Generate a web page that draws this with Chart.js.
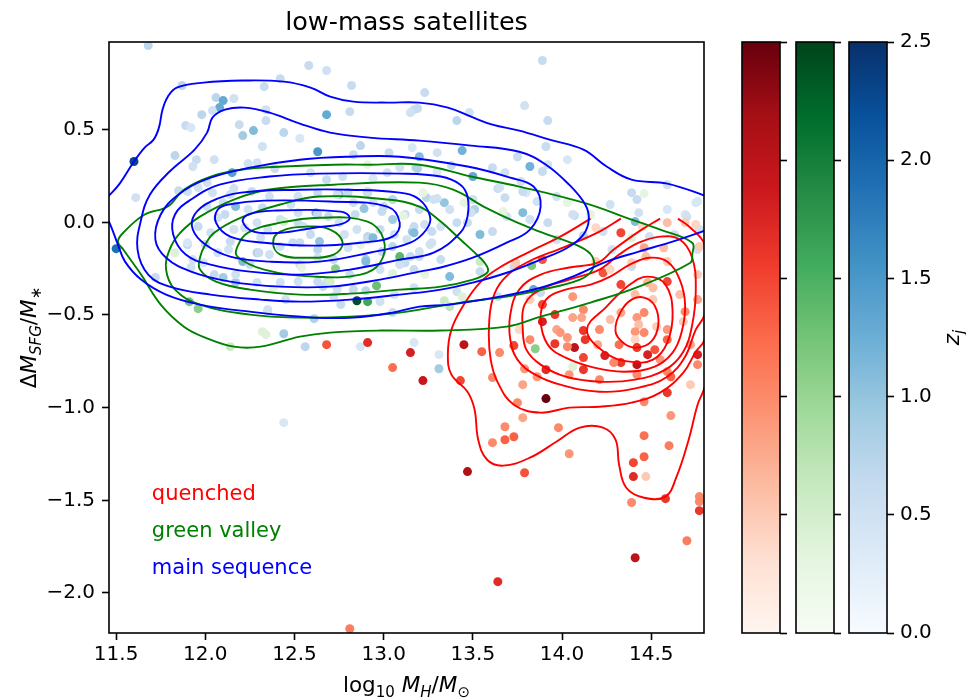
<!DOCTYPE html>
<html>
<head>
<meta charset="utf-8">
<title>low-mass satellites</title>
<script src="https://cdn.jsdelivr.net/npm/chart.js@4.4.1/dist/chart.umd.min.js"></script>
<style>
  html, body { margin:0; padding:0; background:#ffffff; }
  #fig { position:relative; width:966px; height:700px; background:#ffffff; overflow:hidden; }
  #fig canvas { position:absolute; top:0; }
</style>
</head>
<body>
<div id="fig">
  <canvas id="main" width="730" height="700" style="left:0px;width:730px;height:700px;"></canvas>
  <canvas id="cbQ" width="50" height="700" style="left:741px;width:50px;height:700px;"></canvas>
  <canvas id="cbG" width="50" height="700" style="left:795px;width:50px;height:700px;"></canvas>
  <canvas id="cbM" width="118" height="700" style="left:848px;width:118px;height:700px;"></canvas>
</div>
<script>
// ---------------- DATA ----------------
const titleText = 'low-mass satellites';
const xTicks = [11.5, 12.0, 12.5, 13.0, 13.5, 14.0, 14.5];
const yTicks = [-2.0, -1.5, -1.0, -0.5, 0.0, 0.5];
const zTicks = [0.0, 0.5, 1.0, 1.5, 2.0, 2.5];
const xMin = 11.46, xMax = 14.796, yMin = -2.216, yMax = 0.973, zMin = 0.0, zMax = 2.5;
const classNames = ['quenched', 'green valley', 'main sequence'];

// main sequence galaxies
const msX = [11.68,12.58,12.68,12.42,11.87,12.33,12.82,12.06,12.10,12.08,12.16,12.04,11.98,12.34,12.68,12.81,11.89,11.92,12.19,12.34,12.27,12.21,12.44,12.53,12.32,12.63,12.87,13.16,11.83,11.95,12.05,11.60,12.15,11.93,12.24,12.29,12.39,12.59,12.68,12.77,12.83,12.94,13.02,13.18,11.85,11.96,12.01,12.16,12.17,12.75,12.80,12.91,13.00,13.05,12.89,11.61,11.50,11.90,12.52,12.62,12.63,12.91,13.05,13.16,12.90,13.12,12.29,12.53,
13.89,13.23,13.17,13.19,13.79,13.48,13.92,13.41,13.91,13.44,13.20,13.82,13.75,13.38,14.03,13.92,13.89,13.50,13.30,13.64,13.68,13.77,13.80,13.86,13.97,13.24,13.34,13.51,13.47,14.07,14.39,14.42,14.41,14.59,14.59,14.69,14.76,13.54,
13.13,13.27,13.78,13.92,14.23,13.97,
13.03,13.30,13.61,13.68,13.19,13.65,13.78,13.30,12.91,13.09,13.15,
14.06,14.27,14.43,14.70,14.75,14.76,13.61,13.49,13.41,13.37,13.32,13.50,13.69,13.82,
13.73,13.84,13.37,
13.17,13.31,13.31,
13.54,13.64,13.88,14.39,13.74,13.20,13.41,
11.72,11.92,12.10,12.17,12.35,12.61,12.44,12.56,12.87,13.05,12.98,12.90,12.44,12.63,12.72,12.68,
11.90,12.04,12.14,12.26,12.36,12.52,12.63,12.74,12.83,12.94,12.99,13.17,13.23,13.27,13.17,13.28,13.20,
12.07,12.16,12.14,11.90,11.93,12.21,12.30,12.36,12.31,12.35,12.42,12.52,12.63,12.64,12.63,12.72,12.80,12.91,12.94,12.90,12.99,13.09,13.15,13.17,13.20,13.05,12.98,12.85,12.75,12.69,12.55,12.49,12.42,12.29,12.24,12.10,12.01,11.96,12.03,12.07,11.99,12.05,12.17,12.29,12.42,12.52,12.66,12.74,12.83,
12.35,13.17,
14.49,14.63,14.77,14.12,14.28,
12.11,12.22,12.32,12.48,12.59,12.78,12.84,13.06,13.12,13.26,13.32,12.98,12.81,12.53,12.25,12.13,12.00,12.45,12.76,13.06];
const msY = [0.954,0.846,0.819,0.775,0.738,0.732,0.738,0.673,0.657,0.619,0.668,0.603,0.581,0.608,0.581,0.597,0.522,0.511,0.527,0.549,0.495,0.468,0.484,0.452,0.409,0.381,0.414,0.403,0.360,0.338,0.338,0.328,0.268,0.301,0.317,0.322,0.290,0.268,0.230,0.247,0.365,0.236,0.268,0.295,0.171,0.187,0.214,0.182,0.085,0.150,0.160,0.160,0.085,0.123,0.074,0.133,-0.142,-0.120,-0.002,0.052,-0.147,-0.077,0.015,-0.050,-0.201,-0.218,-0.164,-0.110,
0.873,0.700,0.608,0.614,0.630,0.592,0.549,0.549,0.409,0.387,0.354,0.301,0.354,0.306,0.338,0.311,0.274,0.247,0.274,0.182,0.133,0.220,0.160,0.112,0.139,0.133,0.106,0.069,-0.002,0.036,0.160,0.123,0.004,0.203,0.069,0.042,0.112,-0.066,
-0.093,-0.110,0.052,-0.002,-0.050,-0.093,
0.376,0.376,0.295,0.268,0.290,0.187,0.166,0.128,0.166,0.295,0.592,
0.042,0.096,0.052,0.031,0.106,-0.147,-0.050,0.052,-0.002,0.069,-0.023,0.123,0.031,0.015,
-0.239,-0.363,-0.293,
-0.649,-0.714,-0.790,
-0.266,-0.401,-0.379,-0.239,-0.234,-0.185,-0.374,
-0.298,-0.244,-0.298,-0.325,-0.477,-0.520,-0.601,-0.671,-0.671,-0.487,-0.428,-0.369,-1.081,-0.320,-0.401,-0.325,
0.166,0.160,0.150,0.166,0.139,0.139,0.160,0.150,0.106,0.106,0.058,-0.023,-0.012,-0.050,-0.056,0.123,0.069,
0.025,-0.039,-0.104,-0.110,-0.201,-0.212,-0.164,-0.174,-0.083,-0.039,0.015,0.052,0.042,-0.104,-0.191,-0.201,-0.137,-0.093,-0.083,-0.212,-0.158,-0.228,-0.185,-0.255,-0.158,-0.131,-0.039,-0.039,-0.002,0.031,-0.023,-0.110,-0.131,-0.002,0.069,0.106,0.085,-0.023,-0.056,-0.164,-0.218,-0.282,-0.282,-0.325,-0.325,-0.320,-0.347,-0.363,-0.363,
-0.471,-0.353,
-0.077,-0.066,-0.039,-0.072,-0.147,
0.042,-0.029,0.079,0.096,-0.066,-0.066,0.042,-0.066,0.042,-0.120,-0.201,-0.255,-0.282,-0.228,-0.228,-0.147,-0.120,-0.417,-0.444,-0.390];
const msZ = [0.7,0.6,0.5,0.6,0.7,0.6,0.6,0.7,1.3,1.3,0.5,0.5,0.7,0.5,1.3,0.6,0.6,0.4,0.6,0.6,1.1,0.9,0.7,0.4,0.5,1.5,0.7,0.4,0.7,0.6,0.5,2.3,1.4,0.5,0.5,0.5,0.6,0.5,0.6,0.5,0.6,0.4,0.5,0.7,0.6,0.5,0.5,0.5,1.1,1.1,0.6,0.8,0.6,0.7,1.0,0.5,1.9,0.7,0.6,1.1,0.7,0.7,0.9,0.9,0.9,0.6,0.8,0.6,
0.6,0.6,0.6,0.6,0.5,0.5,0.6,0.7,0.6,1.2,1.1,1.2,0.6,0.6,0.4,0.5,0.6,1.3,0.4,0.6,0.6,0.5,0.4,0.5,0.5,0.7,1.0,0.8,0.6,0.6,0.6,0.6,1.1,0.5,0.4,0.4,0.4,1.1,
0.5,0.5,1.1,0.6,0.5,0.5,
0.6,0.5,0.6,0.5,0.8,0.5,0.6,0.5,0.5,0.5,0.5,
0.5,0.5,0.5,0.5,0.4,0.5,0.6,0.5,0.6,0.5,0.5,0.5,0.5,0.5,
0.6,1.3,1.1,
0.4,0.4,0.9,
0.6,0.6,0.6,0.6,0.6,0.6,0.5,
0.6,0.5,0.9,0.9,0.7,0.8,0.9,0.7,0.4,0.6,0.5,0.7,0.4,0.6,0.5,0.5,
0.5,0.5,0.5,0.6,0.5,0.5,0.6,0.5,0.5,0.5,0.6,0.6,0.5,0.6,1.1,0.5,0.6,
0.5,0.5,0.6,0.4,0.5,1.1,0.6,0.5,0.5,0.5,0.5,0.5,0.6,1.0,0.5,0.6,0.5,0.6,1.1,1.1,0.6,0.5,0.6,0.6,0.5,0.7,0.6,0.5,0.5,0.6,0.5,0.6,0.5,0.5,0.5,0.5,0.5,0.6,0.5,0.5,0.4,0.6,0.5,0.5,0.5,0.5,0.6,0.5,0.6,
0.5,0.5,
0.5,0.5,0.5,0.7,0.5,
0.6,0.5,0.6,0.5,0.6,0.5,0.6,0.5,0.6,0.5,0.6,0.5,0.6,0.5,0.6,0.5,0.6,0.5,0.6,0.5];

// green valley galaxies
const gvX = [11.91,11.96,12.32,12.34,12.14,12.73,12.70,12.85,12.91,12.96,13.09,13.05,11.83,12.44,12.38,12.54,14.46,14.03,13.45,13.22,13.67,13.83,13.85,14.06,13.34,13.37,13.44,13.54,14.39,12.91,13.11,13.23,14.16,12.87];
const gvY = [-0.428,-0.466,-0.590,-0.606,-0.671,-0.250,-0.320,-0.423,-0.428,-0.342,-0.185,-0.277,-0.164,0.004,-0.363,-0.244,0.155,0.106,0.106,0.160,0.058,-0.234,-0.682,-0.779,-0.423,-0.455,-0.401,-0.212,-0.083,0.311,0.036,-0.282,0.042,-0.120];
const gvZ = [1.2,1.1,0.4,0.4,0.6,1.1,0.5,2.4,1.6,1.3,1.4,0.4,0.4,0.5,0.3,0.3,0.3,0.3,0.3,0.3,0.3,1.2,1.1,0.4,0.6,0.7,0.4,0.6,0.4,0.3,0.3,0.3,0.3,0.3];

// quenched galaxies
const qX = [12.68,12.91,13.15,13.05,13.22,13.45,13.43,13.55,13.65,13.73,
13.61,13.79,13.78,13.86,13.75,13.91,13.78,13.68,13.73,13.61,
13.68,13.98,14.04,13.47,13.79,13.91,13.89,13.96,13.89,13.97,
13.96,14.03,14.07,14.13,14.12,14.12,14.03,13.99,14.04,14.06,
14.12,14.06,14.11,14.12,14.23,14.33,14.39,14.47,14.59,14.48,
14.41,14.51,14.59,14.42,14.46,14.33,14.43,14.41,14.46,14.41,
14.42,14.48,14.42,14.42,14.33,14.24,14.29,14.53,14.59,14.59,
14.69,14.68,14.59,14.61,14.76,14.76,14.59,14.46,14.61,14.46,
14.60,14.46,14.40,14.40,14.47,14.77,14.76,14.76,14.19,14.33,
14.45,14.59,14.69,14.75,13.89,13.74,14.57,14.77,14.46,14.39,
14.58,14.77,14.77,14.70,14.41,13.64,12.81,14.19,14.27,14.51,
14.66,14.72,14.55,14.32,14.21,14.27,14.20,14.52,14.72,14.21,
13.82,13.76,13.82];
const qY = [-0.660,-0.649,-0.703,-0.784,-0.854,-0.660,-0.854,-0.698,-0.703,-0.665,
-0.838,-0.790,-0.876,-0.833,-0.973,-0.951,-1.054,-1.103,-1.157,-1.189,
-1.173,-1.108,-1.249,-1.345,-1.351,-0.795,-0.444,-0.498,-0.536,-0.579,
-0.655,-0.622,-0.676,-0.633,-0.730,-0.795,-0.671,-0.595,-0.822,-0.401,
-0.471,-0.514,-0.514,-0.584,-0.272,-0.336,-0.218,-0.185,-0.212,-0.325,
-0.390,-0.353,-0.320,-0.514,-0.487,-0.487,-0.552,-0.590,-0.595,-0.633,
-0.676,-0.714,-0.768,-0.822,-0.757,-0.719,-0.757,-0.563,-0.579,-0.633,
-0.482,-0.536,-0.806,-0.833,-0.714,-0.768,-0.919,-0.968,-1.043,-1.151,
-1.205,-1.265,-1.297,-1.372,-1.372,-1.480,-0.282,-0.417,-0.029,-0.056,
-0.023,-0.002,-0.002,-0.012,-0.201,-0.218,-0.137,-0.131,-0.137,-1.512,
-1.491,-1.507,-1.556,-1.718,-1.810,-1.939,-2.193,-0.212,-0.255,-0.417,
-0.390,-0.660,-0.741,-0.660,-0.579,-0.525,-0.660,-0.687,-0.876,-0.849,
-0.417,-0.579,-0.633];
const qZ = [1.4,1.7,1.8,1.2,1.9,2.0,1.5,1.3,1.0,1.5,
1.0,0.9,0.8,0.9,1.0,2.5,0.8,1.0,1.3,1.0,
1.3,1.0,0.9,2.1,1.4,1.7,1.5,1.6,1.8,0.8,
1.6,0.9,2.0,1.6,1.5,1.6,1.0,0.9,0.9,0.9,
1.0,0.8,0.8,1.6,1.4,1.5,0.5,0.6,0.5,0.7,
0.6,0.6,1.5,0.9,1.0,0.8,0.6,0.9,1.0,0.4,
1.6,1.8,2.0,1.0,1.6,1.8,1.0,0.5,0.9,1.3,
1.0,0.5,1.0,1.3,1.8,1.0,1.6,1.0,0.9,1.2,
1.1,1.3,1.5,1.7,0.5,1.0,0.5,0.8,0.4,1.5,
0.4,0.6,0.5,0.4,1.4,0.5,0.6,0.5,0.8,1.0,
1.6,1.0,1.6,1.1,2.0,1.7,1.1,0.5,0.4,0.5,
0.6,0.8,0.9,1.2,1.0,0.6,0.8,1.4,0.5,1.0,
0.5,0.4,1.0];

// density contours (data units), main sequence
const msC1aX = [11.44,11.46,11.52,11.60,11.66,11.71,11.74,11.76,11.79,11.84,11.99,12.21,12.44,12.59,12.70,12.83,13.02,13.20,13.36,13.49,13.61,13.76,13.93,14.12,14.25,14.39,14.59,14.80,14.84];
const msC1aY = [0.130,0.144,0.209,0.328,0.403,0.446,0.511,0.608,0.678,0.727,0.754,0.765,0.759,0.727,0.678,0.651,0.646,0.646,0.619,0.570,0.527,0.495,0.446,0.392,0.301,0.230,0.209,0.144,0.127];
const msC1bX = [11.42,11.46,11.51,11.55,11.64,11.78,11.97,12.25,12.61,12.83,13.05,13.20,13.37,13.65,13.88,14.06,14.25,14.43,14.62,14.80,14.84];
const msC1bY = [0.070,0.004,-0.120,-0.212,-0.309,-0.390,-0.444,-0.482,-0.514,-0.514,-0.487,-0.455,-0.444,-0.401,-0.353,-0.293,-0.212,-0.158,-0.104,-0.045,-0.029];
const msC2X = [11.62,11.64,11.69,11.80,11.94,12.01,12.04,12.11,12.22,12.36,12.53,12.70,12.92,13.20,13.49,13.76,13.91,14.04,14.13,14.15,14.12,14.03,13.88,13.69,13.50,13.32,13.09,12.81,12.53,12.31,12.03,11.80,11.68,11.62];
const msC2Y = [-0.147,0.015,0.150,0.274,0.392,0.484,0.565,0.608,0.619,0.592,0.533,0.484,0.457,0.441,0.414,0.381,0.311,0.203,0.096,0.015,-0.066,-0.137,-0.201,-0.272,-0.325,-0.363,-0.390,-0.417,-0.428,-0.417,-0.390,-0.347,-0.282,-0.147];
const msC3X = [11.72,11.75,11.85,12.00,12.25,12.53,12.81,13.09,13.47,13.71,13.84,13.88,13.82,13.69,13.50,13.32,13.20,12.98,12.70,12.42,12.14,11.92,11.78,11.72];
const msC3Y = [-0.093,0.042,0.150,0.230,0.295,0.338,0.354,0.354,0.301,0.241,0.193,0.085,-0.039,-0.110,-0.191,-0.244,-0.266,-0.309,-0.347,-0.347,-0.320,-0.266,-0.191,-0.093];
const msC4X = [11.82,11.83,11.92,12.08,12.36,12.64,13.09,13.32,13.43,13.47,13.47,13.43,13.28,13.09,12.81,12.53,12.25,12.03,11.89,11.82];
const msC4Y = [-0.066,0.042,0.123,0.203,0.247,0.263,0.263,0.247,0.203,0.139,0.031,-0.056,-0.164,-0.201,-0.255,-0.282,-0.266,-0.228,-0.174,-0.066];
const msC5X = [11.93,11.94,12.03,12.20,12.53,12.81,13.09,13.20,13.26,13.24,13.15,12.92,12.64,12.36,12.14,12.00,11.93];
const msC5Y = [-0.039,0.042,0.112,0.160,0.176,0.176,0.160,0.123,0.031,-0.039,-0.110,-0.164,-0.212,-0.212,-0.185,-0.120,-0.039];
const msC6X = [12.06,12.07,12.13,12.33,12.70,13.02,13.09,13.05,12.87,12.61,12.33,12.14,12.06];
const msC6Y = [-0.002,0.069,0.096,0.117,0.112,0.085,-0.002,-0.077,-0.110,-0.126,-0.110,-0.077,-0.002];
const msC7X = [12.21,12.24,12.38,12.76,12.81,12.77,12.61,12.42,12.27,12.21];
const msC7Y = [0.004,0.042,0.063,0.058,0.025,-0.007,-0.029,-0.056,-0.050,0.004];

// green valley contours
const gvC1X = [11.51,11.54,11.66,11.79,11.88,12.03,12.20,12.44,12.72,12.92,13.20,13.49,13.76,14.12,14.39,14.55,14.73,14.73,14.72,14.43,14.16,13.88,13.69,13.32,12.98,12.70,12.53,12.31,12.16,12.00,11.88,11.75,11.64,11.54,11.51];
const gvC1Y = [-0.104,-0.056,0.042,0.085,0.176,0.247,0.284,0.301,0.311,0.311,0.311,0.247,0.193,0.106,0.015,-0.039,-0.110,-0.174,-0.218,-0.347,-0.433,-0.509,-0.563,-0.584,-0.584,-0.595,-0.617,-0.671,-0.671,-0.622,-0.563,-0.444,-0.282,-0.147,-0.104];
const gvC2X = [11.80,11.86,11.97,12.16,12.35,12.72,13.20,13.39,13.56,13.75,13.89,14.10,14.17,14.17,14.10,13.89,13.69,13.43,13.09,12.81,12.53,12.25,11.97,11.83,11.78,11.80];
const gvC2Y = [-0.147,-0.056,0.031,0.123,0.176,0.203,0.214,0.176,0.085,-0.002,-0.056,-0.131,-0.185,-0.255,-0.309,-0.363,-0.401,-0.433,-0.487,-0.509,-0.514,-0.498,-0.444,-0.363,-0.255,-0.147];
const gvC3X = [11.97,12.00,12.05,12.20,12.42,12.64,13.02,13.20,13.32,13.43,13.54,13.58,13.58,13.50,13.32,13.09,12.81,12.53,12.25,12.06,11.97,11.97];
const gvC3Y = [-0.191,-0.120,-0.056,0.025,0.096,0.139,0.123,0.085,0.004,-0.093,-0.191,-0.239,-0.272,-0.309,-0.347,-0.363,-0.385,-0.390,-0.363,-0.320,-0.255,-0.191];
const gvC4X = [12.18,12.24,12.42,12.64,12.91,13.00,12.98,12.87,12.61,12.33,12.18,12.18];
const gvC4Y = [-0.131,-0.056,-0.002,0.025,0.004,-0.093,-0.218,-0.282,-0.293,-0.255,-0.185,-0.131];
const gvC5X = [12.38,12.42,12.57,12.70,12.77,12.72,12.57,12.42,12.38];
const gvC5Y = [-0.110,-0.050,-0.023,-0.039,-0.110,-0.174,-0.191,-0.174,-0.110];

// quenched contours
const qC1X = [14.16,13.99,13.82,13.65,13.54,13.45,13.38,13.36,13.38,13.47,13.51,13.53,13.58,13.67,13.82,13.97,14.10,14.23,14.30,14.32,14.36,14.46,14.58,14.64,14.71,14.76,14.80,14.86,14.86];
const qC1Y = [0.020,-0.077,-0.158,-0.244,-0.325,-0.444,-0.579,-0.714,-0.822,-0.914,-1.011,-1.173,-1.281,-1.313,-1.270,-1.183,-1.108,-1.108,-1.173,-1.308,-1.432,-1.486,-1.480,-1.378,-1.173,-0.984,-0.887,-0.579,0.020];
const qC2X = [14.33,14.21,14.02,13.80,13.67,13.61,13.59,13.60,13.64,13.73,13.88,14.04,14.21,14.39,14.55,14.68,14.75,14.80,14.84,14.84];
const qC2Y = [0.020,-0.050,-0.131,-0.218,-0.309,-0.417,-0.579,-0.741,-0.865,-0.984,-1.027,-1.000,-0.995,-0.973,-0.919,-0.811,-0.698,-0.633,-0.417,0.020];
const qC3X = [14.55,14.43,14.29,14.20,14.04,13.88,13.76,13.71,13.71,13.75,13.85,13.99,14.21,14.43,14.59,14.69,14.75,14.80,14.83,14.80,14.72,14.65];
const qC3Y = [0.020,-0.050,-0.147,-0.218,-0.244,-0.282,-0.363,-0.498,-0.633,-0.741,-0.822,-0.876,-0.914,-0.892,-0.833,-0.725,-0.579,-0.498,-0.309,-0.120,-0.029,0.020];
const qC4X = [13.78,13.79,13.88,14.04,14.21,14.32,14.43,14.55,14.66,14.73,14.75,14.73,14.68,14.58,14.41,14.21,14.02,13.88,13.80,13.78];
const qC4Y = [-0.579,-0.444,-0.363,-0.309,-0.255,-0.174,-0.110,-0.077,-0.093,-0.191,-0.363,-0.552,-0.698,-0.795,-0.849,-0.860,-0.833,-0.768,-0.687,-0.579];
const qC5X = [13.88,13.91,14.02,14.16,14.27,14.38,14.49,14.59,14.66,14.69,14.67,14.62,14.52,14.35,14.18,14.02,13.92,13.88];
const qC5Y = [-0.525,-0.417,-0.363,-0.336,-0.293,-0.228,-0.191,-0.212,-0.309,-0.444,-0.595,-0.703,-0.779,-0.806,-0.784,-0.730,-0.660,-0.525];
const qC6X = [14.14,14.25,14.38,14.48,14.58,14.62,14.59,14.51,14.38,14.24,14.14];
const qC6Y = [-0.579,-0.455,-0.336,-0.293,-0.336,-0.487,-0.649,-0.741,-0.752,-0.703,-0.579];
const qC7X = [14.30,14.33,14.39,14.46,14.52,14.54,14.50,14.42,14.35,14.30];
const qC7Y = [-0.590,-0.482,-0.417,-0.406,-0.450,-0.552,-0.644,-0.676,-0.655,-0.590];

// ---------------- STYLE ----------------
const FONT = "'DejaVu Sans', 'Liberation Sans', sans-serif";
const REDS   = ['#fff5f0','#fee0d2','#fcbba1','#fc9272','#fb6a4a','#ef3b2c','#cb181d','#a50f15','#67000d'];
const GREENS = ['#f7fcf5','#e5f5e0','#c7e9c0','#a1d99b','#74c476','#41ab5d','#238b45','#006d2c','#00441b'];
const BLUES  = ['#f7fbff','#deebf7','#c6dbef','#9ecae1','#6baed6','#4292c6','#2171b5','#08519c','#08306b'];
const Q_COLOR = '#ff0000', G_COLOR = '#008000', M_COLOR = '#0000ff';
const LINE_W = 1.9, POINT_R = 4.5, SPINE_W = 1.6;

Chart.defaults.font.family = FONT;
Chart.defaults.color = '#000000';

function hexToRgb(h) { return [parseInt(h.slice(1,3),16), parseInt(h.slice(3,5),16), parseInt(h.slice(5,7),16)]; }
function cmap(stops, t) {
  t = Math.max(0, Math.min(1, t));
  const n = stops.length - 1, f = t * n;
  const i = Math.min(Math.floor(f), n - 1), u = f - i;
  const a = hexToRgb(stops[i]), b = hexToRgb(stops[i + 1]);
  return 'rgb(' + a.map((v, k) => Math.round(v + (b[k] - v) * u)).join(',') + ')';
}
function fmtTick(v) { const s = Math.abs(v).toFixed(1); return v < -1e-9 ? '\u2212' + s : s; }

function pointSet(xs, ys, zs, stops, order) {
  const n = Math.min(xs.length, ys.length, zs.length);
  const data = [], colors = [];
  for (let i = 0; i < n; i++) {
    data.push({ x: xs[i], y: ys[i] });
    colors.push(cmap(stops, (zs[i] - zMin) / (zMax - zMin)));
  }
  return { type: 'scatter', data, pointRadius: POINT_R, pointHoverRadius: POINT_R, pointBorderWidth: 0,
           pointBackgroundColor: colors, backgroundColor: colors, borderColor: 'rgba(0,0,0,0)',
           showLine: false, clip: 0, order };
}

function contourSet(xs, ys, color) {
  const n = Math.min(xs.length, ys.length);
  let pts = [];
  for (let i = 0; i < n; i++) pts.push({ x: xs[i], y: ys[i] });
  const closed = n > 3 && xs[0] === xs[n - 1] && ys[0] === ys[n - 1];
  if (closed) pts = [pts[n - 2]].concat(pts, [pts[1]]);
  const m = pts.length;
  return {
    type: 'line', data: pts, borderColor: color, borderWidth: LINE_W, pointRadius: 0, pointHoverRadius: 0,
    fill: false, tension: 0.4, capBezierPoints: false, clip: 0, order: 0, spanGaps: false,
    segment: {
      borderColor: c => (closed && (c.p0DataIndex === 0 || c.p1DataIndex === m - 1)) ? 'rgba(0,0,0,0)' : color
    }
  };
}

function drawMath(ctx, parts, size, cx, cy, rotate) {
  const fontOf = st => {
    const sub = st[0] === 's', it = st.indexOf('i') >= 0;
    return (it ? 'italic ' : '') + (sub ? size * 0.7 : size) + 'px ' + FONT;
  };
  let w = 0; const ws = [];
  parts.forEach(p => { ctx.font = fontOf(p[1]); const ww = ctx.measureText(p[0]).width; ws.push(ww); w += ww; });
  ctx.save();
  ctx.translate(cx, cy);
  if (rotate) ctx.rotate(-Math.PI / 2);
  ctx.textAlign = 'left'; ctx.textBaseline = 'alphabetic'; ctx.fillStyle = '#000';
  let x = -w / 2;
  parts.forEach((p, i) => {
    ctx.font = fontOf(p[1]);
    ctx.fillText(p[0], x, p[1][0] === 's' ? size * 0.24 : 0);
    x += ws[i];
  });
  ctx.restore();
}

const xLabelParts = [['log','n'],['10','sn'],[' ','n'],['M','i'],['H','si'],['/','n'],['M','i'],['\u2299','sn']];
const yLabelParts = [['\u0394','n'],['M','i'],['SFG','si'],['/','n'],['M','i'],['\u2217','sn']];
const zLabelParts = [['z','i'],['j','si']];

// ---------------- MAIN CHART ----------------
const datasets = [];
[[msC1aX,msC1aY],[msC1bX,msC1bY],[msC2X,msC2Y],[msC3X,msC3Y],[msC4X,msC4Y],[msC5X,msC5Y],[msC6X,msC6Y],[msC7X,msC7Y]]
  .forEach(c => datasets.push(contourSet(c[0], c[1], M_COLOR)));
[[gvC1X,gvC1Y],[gvC2X,gvC2Y],[gvC3X,gvC3Y],[gvC4X,gvC4Y],[gvC5X,gvC5Y]]
  .forEach(c => datasets.push(contourSet(c[0], c[1], G_COLOR)));
[[qC1X,qC1Y],[qC2X,qC2Y],[qC3X,qC3Y],[qC4X,qC4Y],[qC5X,qC5Y],[qC6X,qC6Y],[qC7X,qC7Y]]
  .forEach(c => datasets.push(contourSet(c[0], c[1], Q_COLOR)));
datasets.push(pointSet(qX, qY, qZ, REDS, 1));
datasets.push(pointSet(gvX, gvY, gvZ, GREENS, 2));
datasets.push(pointSet(msX, msY, msZ, BLUES, 3));

const mainDecor = {
  id: 'mainDecor',
  afterDatasetsDraw(chart) {
    const ctx = chart.ctx, a = chart.chartArea, sx = chart.scales.x, sy = chart.scales.y;
    ctx.save();
    ctx.strokeStyle = '#000'; ctx.lineWidth = SPINE_W;
    ctx.strokeRect(a.left, a.top, a.right - a.left, a.bottom - a.top);
    const labelColors = [Q_COLOR, G_COLOR, M_COLOR];
    const labelYs = [-1.5, -1.7, -1.9];
    ctx.font = '21px ' + FONT; ctx.textAlign = 'left'; ctx.textBaseline = 'alphabetic';
    classNames.forEach((t, i) => {
      ctx.fillStyle = labelColors[i];
      ctx.fillText(t, sx.getPixelForValue(11.7), sy.getPixelForValue(labelYs[i]));
    });
    ctx.fillStyle = '#000'; ctx.font = '25.5px ' + FONT; ctx.textAlign = 'center';
    ctx.fillText(titleText, (a.left + a.right) / 2, a.top - 12);
    drawMath(ctx, xLabelParts, 21.5, (a.left + a.right) / 2, 692, false);
    drawMath(ctx, yLabelParts, 21.5, 36, (a.top + a.bottom) / 2, true);
    ctx.restore();
  }
};

new Chart(document.getElementById('main'), {
  type: 'scatter',
  data: { datasets },
  options: {
    responsive: false, animation: false, devicePixelRatio: 1, events: [],
    layout: { padding: { top: 42, right: 26, bottom: 0, left: 0 } },
    plugins: { legend: { display: false }, tooltip: { enabled: false }, title: { display: false } },
    scales: {
      x: {
        type: 'linear', min: xMin, max: xMax,
        afterBuildTicks: s => { s.ticks = xTicks.map(v => ({ value: v })); },
        afterFit: s => { s.height = 67; },
        grid: { drawOnChartArea: false, drawTicks: true, tickLength: 7, tickWidth: SPINE_W, tickColor: '#000' },
        border: { display: false },
        ticks: { font: { size: 20 }, color: '#000', padding: 3, maxRotation: 0, autoSkip: false, callback: fmtTick }
      },
      y: {
        type: 'linear', min: yMin, max: yMax,
        afterBuildTicks: s => { s.ticks = yTicks.map(v => ({ value: v })); },
        afterFit: s => { s.width = 109; },
        grid: { drawOnChartArea: false, drawTicks: true, tickLength: 7, tickWidth: SPINE_W, tickColor: '#000' },
        border: { display: false },
        ticks: { font: { size: 20 }, color: '#000', padding: 7, autoSkip: false, callback: fmtTick }
      }
    }
  },
  plugins: [mainDecor]
});

// ---------------- COLORBARS ----------------
function gradientFor(chart, stops) {
  const a = chart.chartArea;
  if (!a) return stops[0];
  const g = chart.ctx.createLinearGradient(0, a.bottom, 0, a.top);
  stops.forEach((c, i) => g.addColorStop(i / (stops.length - 1), c));
  return g;
}
function makeColorbar(id, stops, axisWidth, withLabels) {
  const frame = {
    id: 'cbFrame',
    afterDatasetsDraw(chart) {
      const ctx = chart.ctx, a = chart.chartArea;
      ctx.save();
      ctx.strokeStyle = '#000'; ctx.lineWidth = SPINE_W;
      ctx.strokeRect(a.left, a.top, a.right - a.left, a.bottom - a.top);
      if (withLabels) drawMath(ctx, zLabelParts, 21.5, chart.width - 7, (a.top + a.bottom) / 2, true);
      ctx.restore();
    }
  };
  return new Chart(document.getElementById(id), {
    type: 'bar',
    data: { labels: [''], datasets: [{ data: [[zMin, zMax]], backgroundColor: c => gradientFor(c.chart, stops),
             borderWidth: 0, barPercentage: 1, categoryPercentage: 1 }] },
    options: {
      responsive: false, animation: false, devicePixelRatio: 1, events: [],
      layout: { padding: { top: 42, bottom: 67, left: 1, right: 0 } },
      plugins: { legend: { display: false }, tooltip: { enabled: false } },
      scales: {
        x: { display: false },
        y: {
          position: 'right', min: zMin, max: zMax,
          afterBuildTicks: s => { s.ticks = zTicks.map(v => ({ value: v })); },
          afterFit: s => { s.width = axisWidth; },
          grid: { drawOnChartArea: false, drawTicks: true, tickLength: 7, tickWidth: SPINE_W, tickColor: '#000' },
          border: { display: false },
          ticks: { font: { size: 20 }, color: '#000', padding: 6, autoSkip: false,
                   callback: v => withLabels ? v.toFixed(1) : '' }
        }
      }
    },
    plugins: [frame]
  });
}
makeColorbar('cbQ', REDS, 11, false);
makeColorbar('cbG', GREENS, 11, false);
makeColorbar('cbM', BLUES, 79, true);
</script>
</body>
</html>
